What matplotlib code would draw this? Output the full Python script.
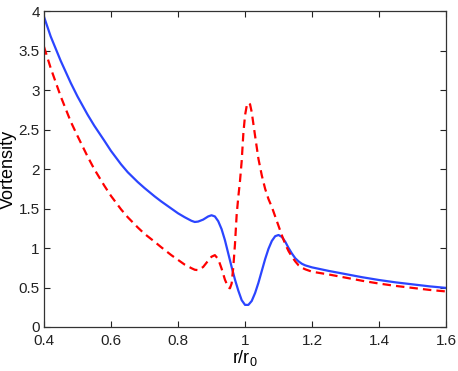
import numpy as np
import matplotlib.pyplot as plt

plt.rcParams['font.family'] = ['Liberation Sans', 'DejaVu Sans']

# blue solid curve
r_blue = [0.40, 0.42, 0.45, 0.48, 0.50, 0.53, 0.55, 0.58, 0.60, 0.63, 0.65, 0.68,
          0.70, 0.73, 0.75, 0.78, 0.80, 0.82, 0.84, 0.85, 0.86, 0.875, 0.89, 0.90,
          0.91, 0.92, 0.93, 0.94, 0.95, 0.96, 0.97, 0.98, 0.99, 1.00, 1.01, 1.02,
          1.03, 1.04, 1.05, 1.06, 1.07, 1.08, 1.09, 1.10, 1.11, 1.12, 1.13, 1.14,
          1.15, 1.16, 1.17, 1.18, 1.20, 1.25, 1.30, 1.35, 1.40, 1.45, 1.50, 1.55, 1.60]
v_blue = [3.93, 3.68, 3.37, 3.09, 2.92, 2.69, 2.55, 2.36, 2.23, 2.06, 1.96, 1.835,
          1.76, 1.655, 1.59, 1.50, 1.44, 1.39, 1.345, 1.33, 1.335, 1.36, 1.40, 1.415,
          1.40, 1.34, 1.24, 1.10, 0.93, 0.76, 0.60, 0.46, 0.34, 0.28, 0.28, 0.33,
          0.43, 0.56, 0.71, 0.86, 0.99, 1.09, 1.15, 1.165, 1.14, 1.08, 1.00, 0.93,
          0.87, 0.83, 0.80, 0.78, 0.755, 0.71, 0.67, 0.63, 0.595, 0.565, 0.54, 0.515, 0.495]

# red dashed curve
r_red = [0.40, 0.42, 0.45, 0.48, 0.50, 0.53, 0.55, 0.58, 0.60, 0.63, 0.65, 0.68,
         0.70, 0.73, 0.75, 0.78, 0.80, 0.82, 0.84, 0.85, 0.86, 0.875, 0.89, 0.90,
         0.91, 0.92, 0.93, 0.94, 0.95, 0.955, 0.96, 0.965, 0.97, 0.975, 0.98, 0.985,
         0.99, 0.995, 1.00, 1.005, 1.01, 1.015, 1.02, 1.03, 1.04, 1.05, 1.06, 1.07,
         1.08, 1.09, 1.10, 1.11, 1.12, 1.13, 1.14, 1.15, 1.16, 1.17, 1.18, 1.20,
         1.25, 1.30, 1.35, 1.40, 1.45, 1.50, 1.55, 1.60]
v_red = [3.55, 3.28, 2.92, 2.60, 2.42, 2.16, 2.00, 1.79, 1.66, 1.49, 1.39, 1.26,
         1.18, 1.08, 1.01, 0.91, 0.85, 0.79, 0.745, 0.725, 0.72, 0.76, 0.84, 0.89,
         0.91, 0.86, 0.74, 0.60, 0.50, 0.49, 0.55, 0.76, 1.05, 1.42, 1.65, 1.85,
         2.10, 2.45, 2.68, 2.80, 2.84, 2.82, 2.72, 2.42, 2.13, 1.92, 1.75, 1.62,
         1.52, 1.40, 1.28, 1.16, 1.05, 0.96, 0.89, 0.83, 0.78, 0.75, 0.73, 0.70,
         0.665, 0.625, 0.585, 0.55, 0.52, 0.495, 0.47, 0.45]

fig = plt.figure(figsize=(4.58, 3.71), dpi=100)
ax = fig.add_axes([0.096, 0.1186, 0.878, 0.8514])

ax.plot(r_blue, v_blue, color='#2b45ff', lw=1.6)
ax.plot(r_red, v_red, color='red', lw=1.6, linestyle=(0, (3.8, 2.3)))

ax.set_xlim(0.4, 1.6)
ax.set_ylim(0, 4)
ax.set_xticks(np.arange(0.4, 1.61, 0.2))
ax.set_yticks(np.arange(0, 4.01, 0.5))
ax.set_xticklabels(['0.4', '0.6', '0.8', '1', '1.2', '1.4', '1.6'])
ax.set_yticklabels(['0', '0.5', '1', '1.5', '2', '2.5', '3', '3.5', '4'])
ax.tick_params(direction='in', top=True, right=True, length=4, width=0.8,
               labelsize=11, colors='#222222', pad=3)
ax.tick_params(axis='x', pad=5)
for s in ax.spines.values():
    s.set_color('#333333')
    s.set_linewidth(0.9)

ax.set_xlabel('r/r$_{\\mathregular{0}}$', fontsize=13, labelpad=0)
ax.set_ylabel('Vortensity', fontsize=13, labelpad=1)

fig.savefig('out.png', dpi=100)
